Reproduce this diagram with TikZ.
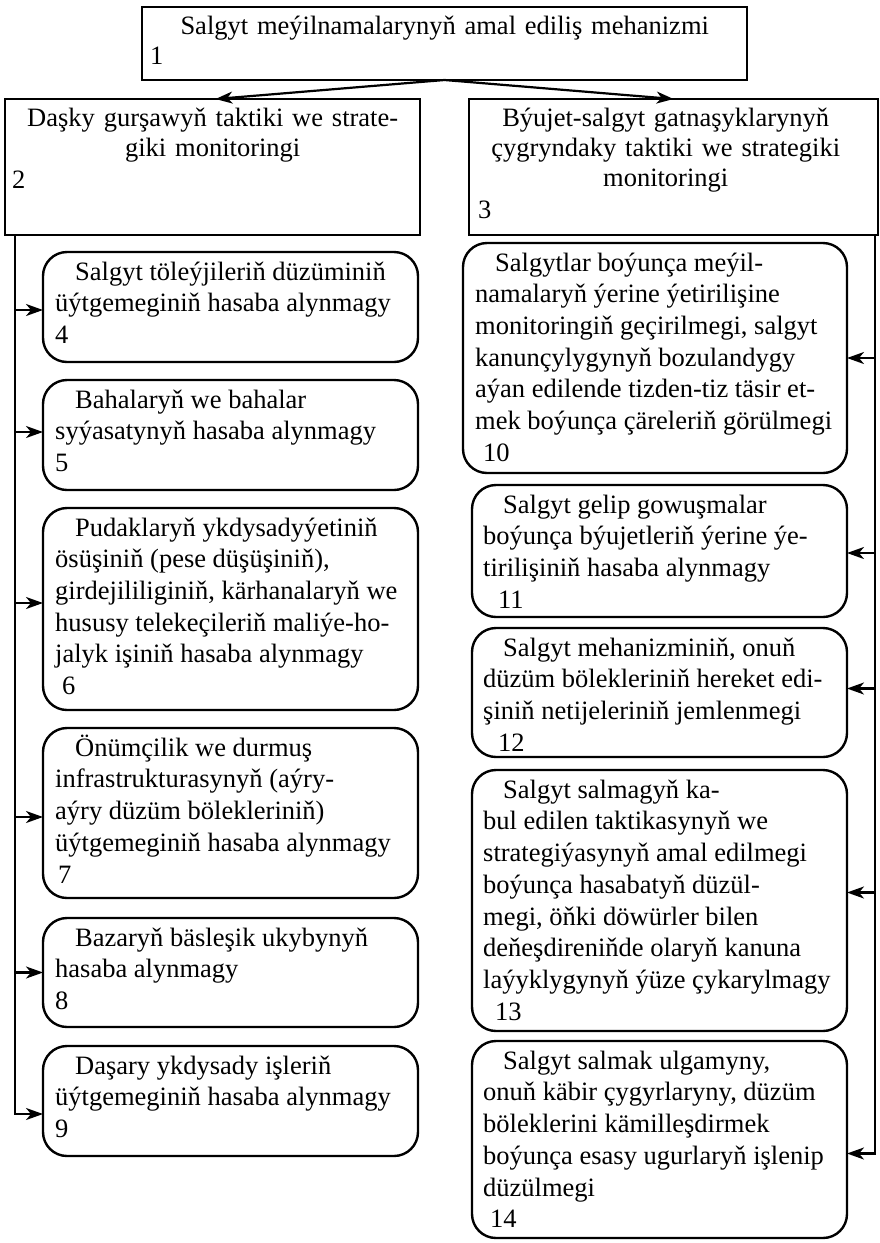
\documentclass[tikz,border=0pt]{standalone}
\usepackage{fontspec}
\setmainfont{Liberation Serif}
\usetikzlibrary{arrows.meta,calc}
\setlength{\parindent}{0pt}
\newcommand{\bodyfnt}{\fontsize{26.5}{31.7}\selectfont}
\newcommand{\headfnt}{\fontsize{26.5}{30}\selectfont}
\begin{document}
\begin{tikzpicture}[x=1pt,y=-1pt,
  sqbox/.style={draw,line width=2.4pt,inner sep=0pt,outer sep=0pt,anchor=north west},
  rbox/.style={draw,line width=2.4pt,rounded corners=24pt,inner sep=0pt,outer sep=0pt,anchor=north west},
  body/.style={inner sep=0pt,anchor=north west,align=left,font=\bodyfnt},
  head/.style={inner sep=0pt,anchor=north west,align=center,font=\headfnt},
  arr/.style={line width=2.2pt,-{Stealth[length=17pt,width=12pt,inset=5pt]}}]
\useasboundingbox (0,0) rectangle (880,1243);
% heading boxes
\node[sqbox,minimum width=605pt,minimum height=73pt] (b1) at (142,7) {};
\node[sqbox,minimum width=415pt,minimum height=136pt] (b2) at (5,99) {};
\node[sqbox,minimum width=409pt,minimum height=136pt] (b3) at (469,99) {};
\node[head,text width=589pt] (t1) at ([xshift=8pt,yshift=-6.6pt]b1.north west)
  {\strut Salgyt meýilnamalarynyň amal ediliş mehanizmi\\\makebox[589pt][l]{1}};
\node[head,text width=401pt] (t2) at ([xshift=7pt,yshift=-6.6pt]b2.north west)
  {\strut Daşky gurşawyň taktiki we strate-\\giki monitoringi\\[2pt]\makebox[401pt][l]{2}};
\node[head,text width=375pt] (t3) at ([xshift=9pt,yshift=-6.6pt]b3.north west)
  {\strut Býujet-salgyt gatnaşyklarynyň\\çygryndaky taktiki we strategiki\\monitoringi\\[2pt]\makebox[375pt][l]{3}};
% left column
\node[rbox,minimum width=375pt,minimum height=110pt] (b4) at (43,252) {};
\node[rbox,minimum width=375pt,minimum height=110pt] (b5) at (43,380) {};
\node[rbox,minimum width=375pt,minimum height=202pt] (b6) at (43,508) {};
\node[rbox,minimum width=375pt,minimum height=170pt] (b7) at (43,728) {};
\node[rbox,minimum width=375pt,minimum height=109pt] (b8) at (43,918) {};
\node[rbox,minimum width=375pt,minimum height=110pt] (b9) at (43,1046) {};
\node[body] (t4) at ([xshift=12pt,yshift=-5.8pt]b4.north west)
  {\strut\hspace*{20pt}Salgyt töleýjileriň düzüminiň\\üýtgemeginiň hasaba alynmagy\\4};
\node[body] (t5) at ([xshift=12pt,yshift=-5.8pt]b5.north west)
  {\strut\hspace*{20pt}Bahalaryň we bahalar\\syýasatynyň hasaba alynmagy\\5};
\node[body] (t6) at ([xshift=12pt,yshift=-5.8pt]b6.north west)
  {\strut\hspace*{20pt}Pudaklaryň ykdysadyýetiniň\\ösüşiniň (pese düşüşiniň),\\girdejililiginiň, kärhanalaryň we\\hususy telekeçileriň maliýe-ho-\\jalyk işiniň hasaba alynmagy\\\hspace*{7pt}6};
\node[body] (t7) at ([xshift=12pt,yshift=-5.8pt]b7.north west)
  {\strut\hspace*{20pt}Önümçilik we durmuş\\infrastrukturasynyň (aýry-\\aýry düzüm bölekleriniň)\\üýtgemeginiň hasaba alynmagy\\\hspace*{3pt}7};
\node[body] (t8) at ([xshift=12pt,yshift=-5.8pt]b8.north west)
  {\strut\hspace*{20pt}Bazaryň bäsleşik ukybynyň\\hasaba alynmagy\\8};
\node[body] (t9) at ([xshift=12pt,yshift=-5.8pt]b9.north west)
  {\strut\hspace*{20pt}Daşary ykdysady işleriň\\üýtgemeginiň hasaba alynmagy\\9};
% right column
\node[rbox,minimum width=384pt,minimum height=230pt] (b10) at (463,243) {};
\node[rbox,minimum width=375pt,minimum height=132pt] (b11) at (472,485) {};
\node[rbox,minimum width=375pt,minimum height=129pt] (b12) at (472,628) {};
\node[rbox,minimum width=375pt,minimum height=261pt] (b13) at (472,770) {};
\node[rbox,minimum width=375pt,minimum height=197pt] (b14) at (472,1041) {};
\node[body] (t10) at ([xshift=12pt,yshift=-5.8pt]b10.north west)
  {\strut\hspace*{20pt}Salgytlar boýunça meýil-\\namalaryň ýerine ýetirilişine\\monitoringiň geçirilmegi, salgyt\\kanunçylygynyň bozulandygy\\aýan edilende tizden-tiz täsir et-\\mek boýunça çäreleriň görülmegi\\\hspace*{8pt}10};
\node[body] (t11) at ([xshift=11pt,yshift=-5.8pt]b11.north west)
  {\strut\hspace*{20pt}Salgyt gelip gowuşmalar\\boýunça býujetleriň ýerine ýe-\\tirilişiniň hasaba alynmagy\\\hspace*{15pt}11};
\node[body] (t12) at ([xshift=11pt,yshift=-5.8pt]b12.north west)
  {\strut\hspace*{20pt}Salgyt mehanizminiň, onuň\\düzüm bölekleriniň hereket edi-\\şiniň netijeleriniň jemlenmegi\\\hspace*{15pt}12};
\node[body] (t13) at ([xshift=11pt,yshift=-5.8pt]b13.north west)
  {\strut\hspace*{20pt}Salgyt salmagyň ka-\\bul edilen taktikasynyň we\\strategiýasynyň amal edilmegi\\boýunça hasabatyň düzül-\\megi, öňki döwürler bilen\\deňeşdireniňde olaryň kanuna\\laýyklygynyň ýüze çykarylmagy\\\hspace*{12pt}13};
\node[body] (t14) at ([xshift=11pt,yshift=-5.8pt]b14.north west)
  {\strut\hspace*{20pt}Salgyt salmak ulgamyny,\\onuň käbir çygyrlaryny, düzüm\\böleklerini kämilleşdirmek\\boýunça esasy ugurlaryň işlenip\\düzülmegi\\\hspace*{7pt}14};
% connectors
\draw[arr] (b1.south) -- ($(b2.north)+(3,0)$);
\draw[arr] (b1.south) -- (b3.north);
\coordinate (Ltop) at ([xshift=10pt]b2.south west);
\coordinate (Rtop) at ([xshift=-3pt]b3.south east);
\draw[arr] (Ltop) |- ($(b9.west)+(0,13)$);
\foreach \b/\d in {b4/3,b5/-3,b6/-6,b7/4,b8/0}
  \draw[arr] ($(Ltop|-\b.west)+(0,\d)$) -- ($(\b.west)+(0,\d)$);
\draw[arr] (Rtop) |- ($(b14.east)+(0,14)$);
\foreach \b/\d in {b10/0,b11/2,b12/-4,b13/-8}
  \draw[arr] ($(Rtop|-\b.east)+(0,\d)$) -- ($(\b.east)+(0,\d)$);
\end{tikzpicture}
\end{document}
